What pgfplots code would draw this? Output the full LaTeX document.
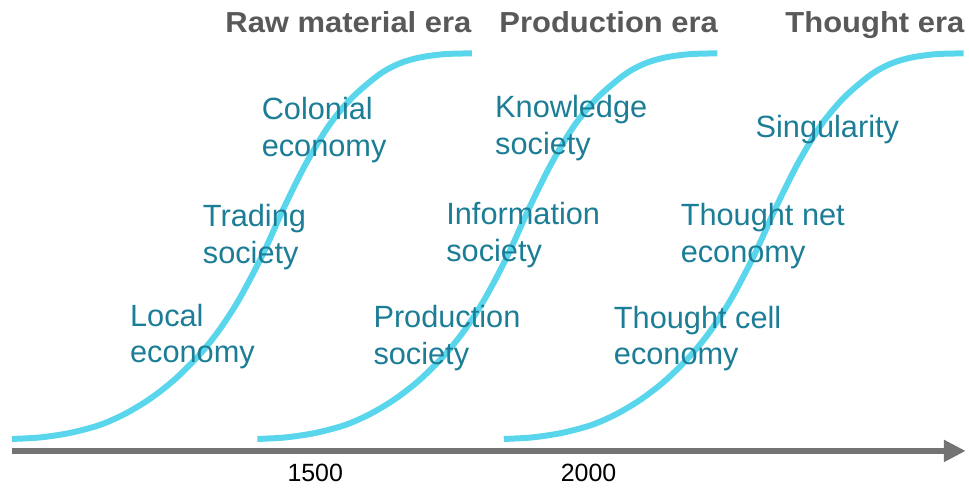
\documentclass[border=0pt]{standalone}
\usepackage{fontspec}
\setmainfont{Liberation Sans}
\usepackage{graphicx}
\usepackage{pgfplots}
\pgfplotsset{compat=1.18}
\usetikzlibrary{arrows.meta}
\definecolor{curvecol}{HTML}{5AD6EC}
\definecolor{labelcol}{HTML}{1C7D96}
\definecolor{eracol}{HTML}{595959}
\definecolor{axiscol}{HTML}{737373}
\newcommand{\lab}{\fontsize{15.4}{18}\selectfont\color{labelcol}}
\newcommand{\era}[1]{\fontsize{14.5}{17}\selectfont\bfseries\color{eracol}\scalebox{1.07}[1]{#1}}
\begin{document}
\begin{tikzpicture}
\begin{axis}[
  scale only axis,
  width=478pt, height=226pt,
  xmin=12, xmax=968, ymin=36, ymax=488,
  axis x line=bottom, axis y line=none,
  x axis line style={line width=3.3pt, color=axiscol, -{Triangle[length=11pt,width=10.5pt]}},
  xtick={316,590}, xticklabels={1500,2000},
  major tick length=0pt,
  /pgf/number format/assume math mode=true,
  xticklabel style={font=\fontsize{12.5}{14}\selectfont, text=black, yshift=-3pt},
  clip=false,
]
\path (axis cs:0,0) rectangle (axis cs:969,488);
% S-curves
\addplot[smooth, line width=3pt, color=curvecol] coordinates {
 (12,48)(40,49.5)(70,54)(100,62)(125,73)(150,88)(175,107.5)(200,132.5)(220,157.5)(240,188.5)
 (263,232.2)(285,280.6)(307,324.6)(330,362.6)(353,390.2)(380,413.2)(400,424.2)(420,430.2)(445,433.7)(473,434.5)};
\addplot[smooth, line width=3pt, color=curvecol] coordinates {
 (258,48)(286,49.5)(316,54)(346,62)(371,73)(396,88)(421,107.5)(446,132.5)(466,157.5)(486,188.5)
 (509,232.2)(531,280.6)(553,324.6)(576,362.6)(599,390.2)(626,413.2)(646,424.2)(666,430.2)(691,433.7)(719,434.5)};
\addplot[smooth, line width=3pt, color=curvecol] coordinates {
 (505,48)(533,49.5)(563,54)(593,62)(618,73)(643,88)(668,107.5)(693,132.5)(713,157.5)(733,188.5)
 (756,232.2)(778,280.6)(800,324.6)(823,362.6)(846,390.2)(873,413.2)(893,424.2)(913,430.2)(938,433.7)(966,434.5)};
% era titles
\node[anchor=base east, inner sep=0pt] at (axis cs:473,455) {\era{Raw material era}};
\node[anchor=base east, inner sep=0pt] at (axis cs:720,455) {\era{Production era}};
\node[anchor=base east, inner sep=0pt] at (axis cs:967,455) {\era{Thought era}};
% labels
\node[anchor=base west, inner sep=0pt] at (axis cs:130,161) {\lab Local};
\node[anchor=base west, inner sep=0pt] at (axis cs:130,125) {\lab economy};
\node[anchor=base west, inner sep=0pt] at (axis cs:203,261) {\lab Trading};
\node[anchor=base west, inner sep=0pt] at (axis cs:203,224) {\lab society};
\node[anchor=base west, inner sep=0pt] at (axis cs:262,368) {\lab Colonial};
\node[anchor=base west, inner sep=0pt] at (axis cs:262,331) {\lab economy};
\node[anchor=base west, inner sep=0pt] at (axis cs:374,160) {\lab Production};
\node[anchor=base west, inner sep=0pt] at (axis cs:374,123) {\lab society};
\node[anchor=base west, inner sep=0pt] at (axis cs:447,263) {\lab Information};
\node[anchor=base west, inner sep=0pt] at (axis cs:447,226) {\lab society};
\node[anchor=base west, inner sep=0pt] at (axis cs:496,370) {\lab Knowledge};
\node[anchor=base west, inner sep=0pt] at (axis cs:496,333) {\lab society};
\node[anchor=base west, inner sep=0pt] at (axis cs:757,350) {\lab Singularity};
\node[anchor=base west, inner sep=0pt] at (axis cs:682,262) {\lab Thought net};
\node[anchor=base west, inner sep=0pt] at (axis cs:682,225) {\lab economy};
\node[anchor=base west, inner sep=0pt] at (axis cs:615,159) {\lab Thought cell};
\node[anchor=base west, inner sep=0pt] at (axis cs:615,123) {\lab economy};
\end{axis}
\end{tikzpicture}
\end{document}
